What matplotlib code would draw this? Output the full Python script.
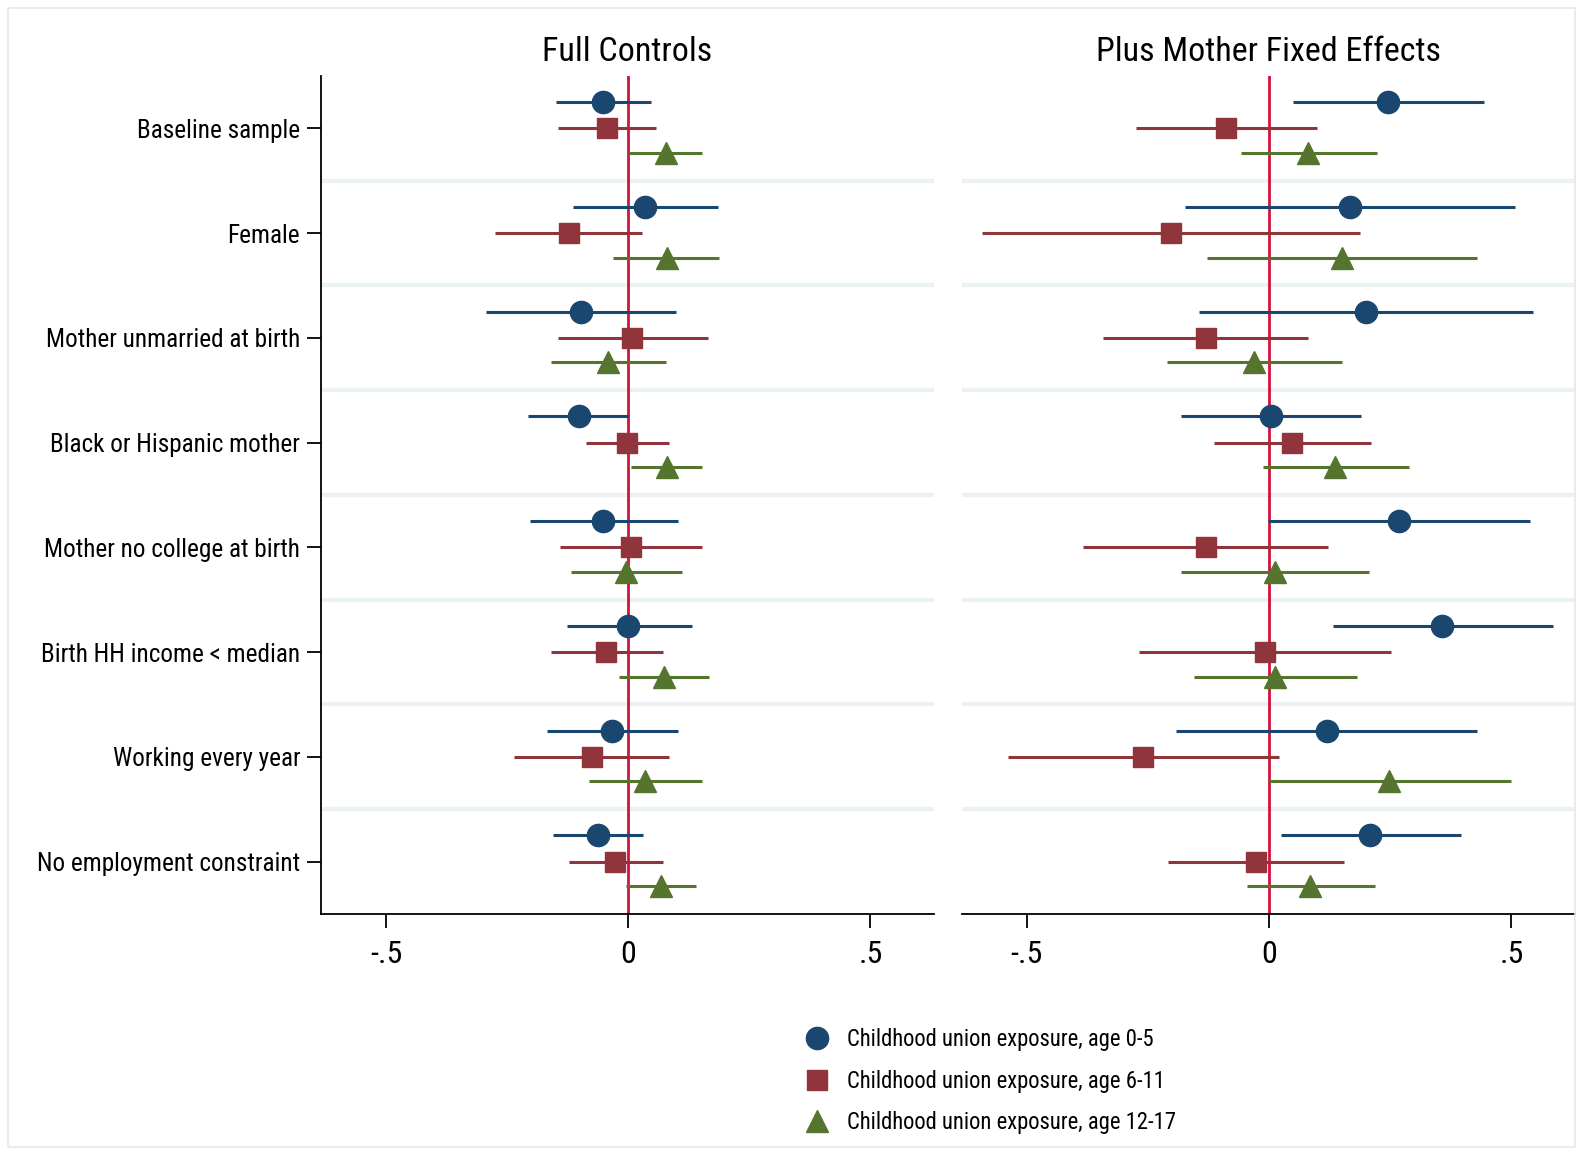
import matplotlib
matplotlib.use("Agg")
import matplotlib.pyplot as plt
from matplotlib.lines import Line2D
from matplotlib.patches import Rectangle

plt.rcParams["font.family"] = ["Arial Narrow", "Liberation Sans Narrow", "Roboto Condensed",
                               "Open Sans Condensed", "Liberation Sans", "DejaVu Sans"]

categories = [
    "Baseline sample",
    "Female",
    "Mother unmarried at birth",
    "Black or Hispanic mother",
    "Mother no college at birth",
    "Birth HH income < median",
    "Working every year",
    "No employment constraint",
]
series_labels = [
    "Childhood union exposure, age 0-5",
    "Childhood union exposure, age 6-11",
    "Childhood union exposure, age 12-17",
]
panel_titles = ["Full Controls", "Plus Mother Fixed Effects"]

# Full controls: point estimate, lower, upper
fc_age05 = [-0.052, 0.035, -0.098, -0.102, -0.052, 0.000, -0.033, -0.062]
fc_age05_lo = [-0.150, -0.115, -0.294, -0.206, -0.202, -0.127, -0.167, -0.156]
fc_age05_hi = [0.048, 0.185, 0.098, 0.002, 0.102, 0.131, 0.102, 0.031]
fc_age611 = [-0.044, -0.123, 0.008, -0.002, 0.006, -0.046, -0.075, -0.027]
fc_age611_lo = [-0.144, -0.275, -0.144, -0.088, -0.140, -0.160, -0.235, -0.123]
fc_age611_hi = [0.058, 0.029, 0.165, 0.085, 0.152, 0.071, 0.085, 0.071]
fc_age1217 = [0.077, 0.079, -0.042, 0.079, -0.004, 0.073, 0.035, 0.067]
fc_age1217_lo = [0.000, -0.031, -0.160, 0.006, -0.119, -0.019, -0.081, -0.004]
fc_age1217_hi = [0.152, 0.188, 0.077, 0.152, 0.110, 0.167, 0.152, 0.140]

# Plus mother fixed effects
fe_age05 = [0.246, 0.167, 0.200, 0.004, 0.267, 0.356, 0.119, 0.208]
fe_age05_lo = [0.050, -0.173, -0.144, -0.181, -0.002, 0.131, -0.192, 0.025]
fe_age05_hi = [0.444, 0.508, 0.544, 0.190, 0.538, 0.585, 0.429, 0.396]
fe_age611 = [-0.090, -0.202, -0.131, 0.048, -0.131, -0.008, -0.260, -0.027]
fe_age611_lo = [-0.275, -0.592, -0.342, -0.113, -0.385, -0.269, -0.540, -0.208]
fe_age611_hi = [0.098, 0.188, 0.081, 0.210, 0.121, 0.252, 0.021, 0.154]
fe_age1217 = [0.081, 0.150, -0.031, 0.135, 0.013, 0.013, 0.248, 0.085]
fe_age1217_lo = [-0.058, -0.129, -0.210, -0.013, -0.183, -0.156, 0.000, -0.046]
fe_age1217_hi = [0.223, 0.429, 0.150, 0.288, 0.206, 0.181, 0.500, 0.219]

colors = ["#1a476f", "#90353b", "#55752f"]
markers = ["o", "s", "^"]
msizes = [16, 14.5, 16]
offsets = [-0.25, 0.0, 0.235]

panels = [
    [(fc_age05, fc_age05_lo, fc_age05_hi),
     (fc_age611, fc_age611_lo, fc_age611_hi),
     (fc_age1217, fc_age1217_lo, fc_age1217_hi)],
    [(fe_age05, fe_age05_lo, fe_age05_hi),
     (fe_age611, fe_age611_lo, fe_age611_hi),
     (fe_age1217, fe_age1217_lo, fe_age1217_hi)],
]

fig = plt.figure(figsize=(15.83, 11.53), dpi=100)
fig.patches.append(Rectangle((0.005, 0.005), 0.99, 0.988, transform=fig.transFigure,
                             fill=False, edgecolor="#e8e8e8", linewidth=1.2))

ax_pos = [[0.2028, 0.2073, 0.3872, 0.7268], [0.6077, 0.2073, 0.3872, 0.7268]]
ypos = list(range(1, len(categories) + 1))

for k, (rect, series) in enumerate(zip(ax_pos, panels)):
    ax = fig.add_axes(rect)
    for yy in ypos[:-1]:
        ax.axhline(yy + 0.5, color="#eaf2f3", linewidth=3, zorder=0)
    ax.axvline(0, color="#d5103c", linewidth=2, zorder=1)
    for s, (est, lo, hi) in enumerate(series):
        yv = [y + offsets[s] for y in ypos]
        ax.hlines(yv, lo, hi, color=colors[s], linewidth=2.2, zorder=2)
        ax.plot(est, yv, linestyle="none", marker=markers[s], color=colors[s],
                markersize=msizes[s], zorder=3)
    ax.set_xlim(-0.634, 0.631)
    ax.set_ylim(8.5, 0.5)
    ax.set_xticks([-0.5, 0, 0.5])
    ax.set_xticklabels(["-.5", "0", ".5"], fontsize=23)
    ax.tick_params(axis="x", length=10, width=1.3, pad=9)
    ax.set_title(panel_titles[k], fontsize=24.5, pad=11)
    ax.spines["top"].set_visible(False)
    ax.spines["right"].set_visible(False)
    ax.spines["bottom"].set_linewidth(1.3)
    ax.spines["left"].set_linewidth(1.3)
    if k == 0:
        ax.set_yticks(ypos)
        ax.set_yticklabels(categories, fontsize=18.2)
        ax.tick_params(axis="y", length=10, width=1.3, pad=5)
    else:
        ax.spines["left"].set_visible(False)
        ax.set_yticks([])

handles = [Line2D([], [], linestyle="none", marker=markers[s], color=colors[s],
                  markersize=msizes[s]) for s in range(3)]
fig.legend(handles, series_labels, loc="upper left", bbox_to_anchor=(0.5015, 0.118),
           frameon=False, fontsize=16.3, handlelength=1.0, handletextpad=0.85,
           labelspacing=0.82, borderpad=0)

fig.savefig("out.png", dpi=100)
